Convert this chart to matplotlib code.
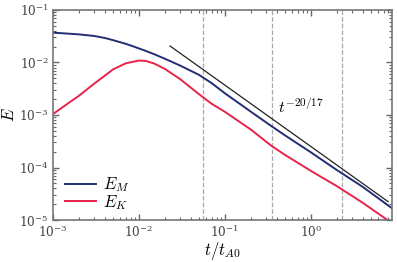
import numpy as np
import matplotlib
matplotlib.use("Agg")
import matplotlib.pyplot as plt

plt.rcParams['mathtext.fontset'] = 'cm'
plt.rcParams['font.family'] = 'serif'
plt.rcParams['font.serif'] = ['DejaVu Serif']

# time grid (t / t_A0)
t = [1e-3, 1.5e-3, 2e-3, 3e-3, 4e-3, 5e-3, 7e-3, 8.5e-3, 1e-2, 1.2e-2, 1.5e-2, 2e-2, 3e-2,
     5e-2, 7e-2, 0.1, 0.2, 0.35, 0.5, 1.0, 2.0, 4.0, 8.7]

# magnetic energy
E_M = [0.0370, 0.0354, 0.0343, 0.0320, 0.0293, 0.0266, 0.0227, 0.0204, 0.0185, 0.0166, 0.0144, 0.0118, 0.00877,
       0.00581, 0.00405, 0.00259, 0.00116, 6.10e-4, 4.10e-4, 1.95e-4, 9.0e-5, 4.3e-5, 1.7e-5]

# kinetic energy
E_K = [1.045e-3, 1.67e-3, 2.32e-3, 3.93e-3, 5.6e-3, 7.39e-3, 9.62e-3, 1.03e-2, 0.0109, 1.07e-2, 9.57e-3, 7.55e-3, 4.85e-3,
       2.49e-3, 1.64e-3, 1.15e-3, 5.30e-4, 2.57e-4, 1.74e-4, 8.65e-5, 4.44e-5, 2.14e-5, 8.85e-6]

# reference power law t^(-20/17)
t_ref = [0.023, 7.9]
E_ref = [0.0206, 2.25e-5]

# dashed markers
t_marks = [0.0555, 0.352, 2.29]

fig = plt.figure(figsize=(3.97, 2.62), dpi=100)
ax = fig.add_axes([0.1335, 0.160, 0.8535, 0.802])

for tm in t_marks:
    ax.axvline(tm, color='#aaaaaa', ls='--', lw=0.9, zorder=1)

ax.plot(t, E_M, color='#232d73', lw=1.4, label='$E_M$', zorder=2)
ax.plot(t, E_K, color='#e6244a', lw=1.4, label='$E_K$', zorder=2)
ax.plot(t_ref, E_ref, color='#222222', lw=0.9, zorder=3)

ax.text(0.41, 1.09e-3, '$t^{-20/17}$', fontsize=11.5)

ax.set_xscale('log')
ax.set_yscale('log')
ax.set_xlim(1e-3, 8.75)
ax.set_ylim(1e-5, 1e-1)
ax.set_xlabel('$t/t_{A0}$', fontsize=12, labelpad=0)
ax.set_ylabel('$E$', fontsize=12, labelpad=1)

ax.tick_params(which='both', direction='in', top=True, right=True, colors='#666666',
               labelcolor='#444444', labelsize=8.7)
ax.tick_params(which='major', length=4, width=1, pad=3)
ax.tick_params(which='minor', length=2, width=0.8)
for s in ax.spines.values():
    s.set_color('#777777')
    s.set_linewidth(1.2)

ax.legend(loc='lower left', bbox_to_anchor=(0.0, -0.015), frameon=False, fontsize=12,
          handlelength=1.9, borderaxespad=0.3, labelspacing=-0.1, handletextpad=0.4)

fig.savefig('out.png', dpi=100)
